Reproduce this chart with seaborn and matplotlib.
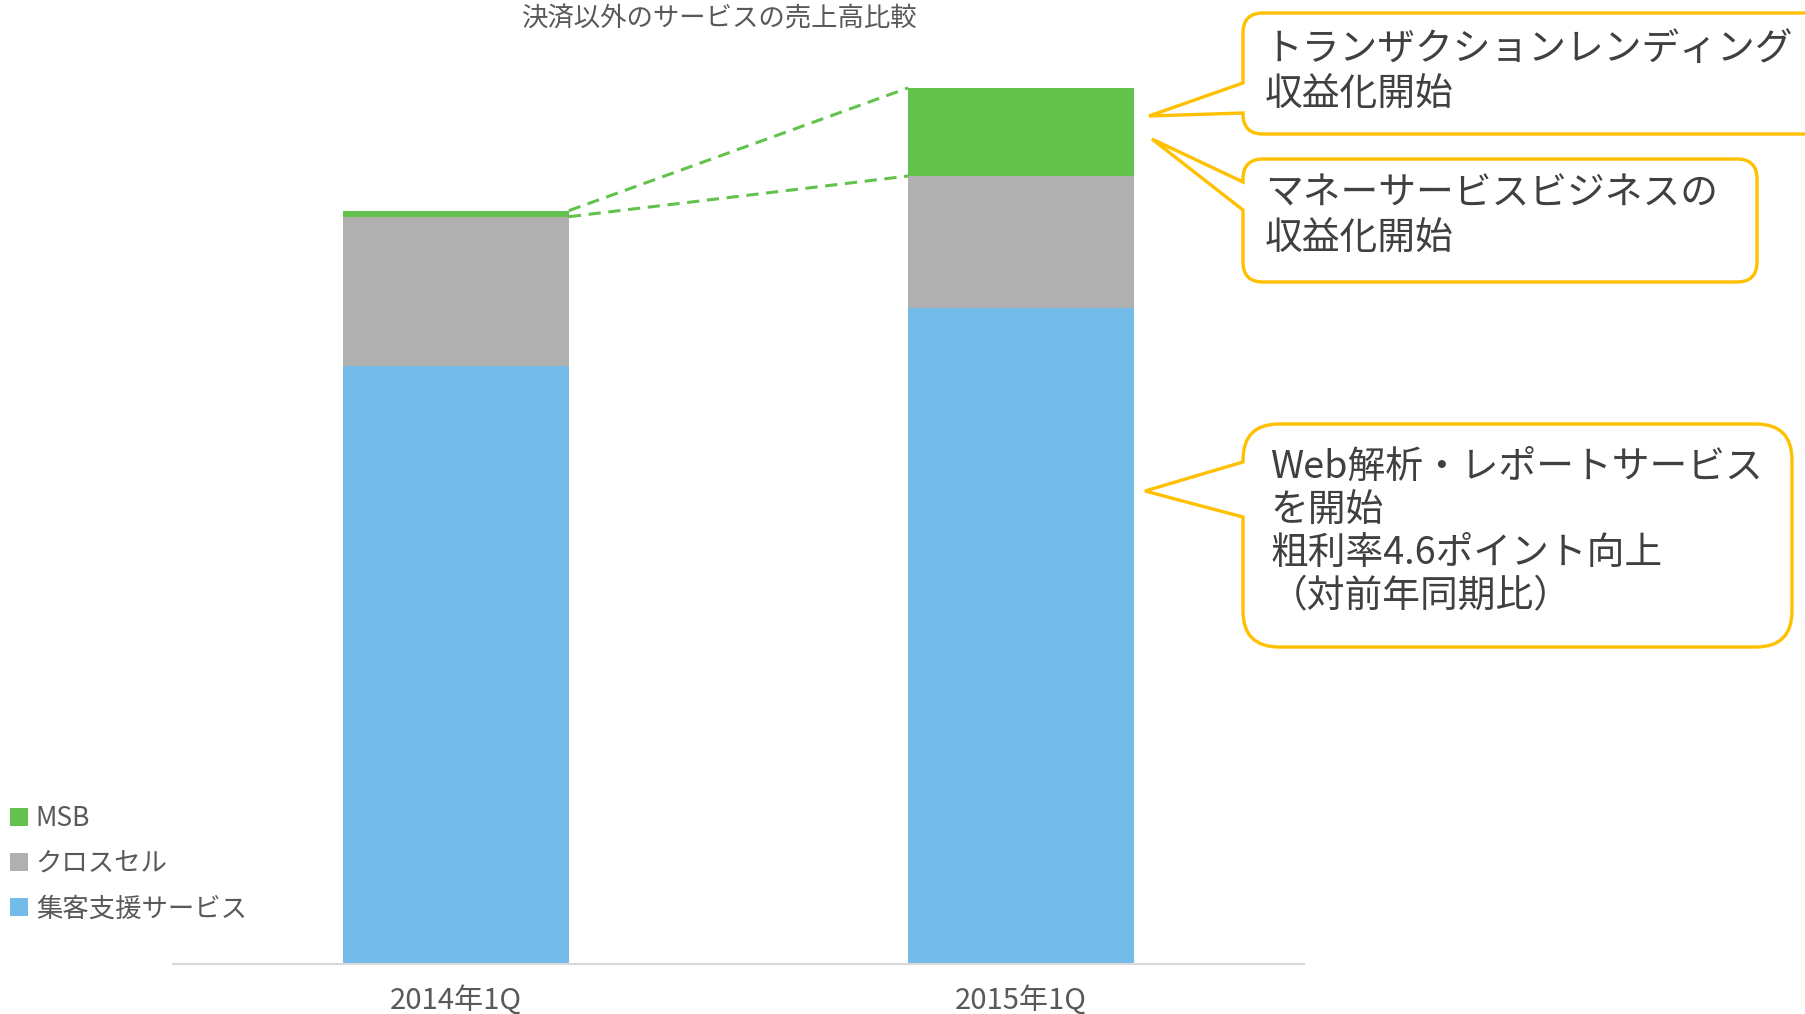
import matplotlib
matplotlib.use("Agg")
import matplotlib.pyplot as plt
from matplotlib.path import Path
from matplotlib.patches import PathPatch, Patch
import seaborn as sns
import pandas as pd
import numpy as np

# ---- data (index: 2014年1Q total = 100) ----
categories = ["2014年1Q", "2015年1Q"]
shukyaku = [79.4, 87.1]      # 集客支援サービス
crosssell = [19.8, 17.5]     # クロスセル
msb = [0.8, 11.7]            # MSB
series_names = ["集客支援サービス", "クロスセル", "MSB"]
title_text = "決済以外のサービスの売上高比較"
callout_texts = [
    "トランザクションレンディング\n収益化開始",
    "マネーサービスビジネスの\n収益化開始",
    "Web解析・レポートサービス\nを開始\n粗利率4.6ポイント向上\n（対前年同期比）",
]

C_BLUE = "#73BBE8"
C_GRAY = "#B0B0B0"
C_GREEN = "#63C24B"
C_GOLD = "#FFC000"
C_TEXT = "#595959"
C_DARK = "#404040"

sns.set_theme(style="white")
plt.rcParams["font.family"] = ["Noto Sans CJK JP", "DejaVu Sans"]

W, H = 1806, 1014
fig = plt.figure(figsize=(W / 100, H / 100), dpi=100)
ax = fig.add_axes([173 / W, 50 / H, 1131 / W, 904 / H])

df = pd.DataFrame({
    "cat": categories,
    "blue": shukyaku,
    "gray": np.array(shukyaku) + np.array(crosssell),
    "total": np.array(shukyaku) + np.array(crosssell) + np.array(msb),
})

sns.barplot(data=df, x="cat", y="total", color=C_GREEN, width=0.4, saturation=1,
            linewidth=0, ax=ax, label=series_names[2])
sns.barplot(data=df, x="cat", y="gray", color=C_GRAY, width=0.4, saturation=1,
            linewidth=0, ax=ax, label=series_names[1])
sns.barplot(data=df, x="cat", y="blue", color=C_BLUE, width=0.4, saturation=1,
            linewidth=0, ax=ax, label=series_names[0])

# dashed connector lines between the MSB segments
hw = 0.2
ax.plot([0 + hw, 1 - hw], [df["total"][0], df["total"][1]], ls=(0, (4, 2.5)),
        color=C_GREEN, lw=2.2, zorder=5)
ax.plot([0 + hw, 1 - hw], [df["gray"][0], df["gray"][1]], ls=(0, (4, 2.5)),
        color=C_GREEN, lw=2.2, zorder=5)

ax.set_xlim(-0.5, 1.5)
ax.set_ylim(0, 120)
ax.set_xlabel("")
ax.set_ylabel("")
ax.set_yticks([])
for s in ["top", "right", "left"]:
    ax.spines[s].set_visible(False)
ax.spines["bottom"].set_color("#D9D9D9")
ax.spines["bottom"].set_linewidth(1.5)
ax.tick_params(axis="x", length=0, pad=16, labelsize=21, labelcolor=C_TEXT)
if ax.get_legend() is not None:
    ax.get_legend().remove()

# legend (MSB, クロスセル, 集客支援サービス)
handles = [Patch(facecolor=c, edgecolor="none") for c in [C_GREEN, C_GRAY, C_BLUE]]
labels = [series_names[2], series_names[1], series_names[0]]
fig.legend(handles, labels, loc="upper left", bbox_to_anchor=(10 / W, 1 - 805 / H),
           frameon=False, fontsize=19, handlelength=0.68, handleheight=0.68,
           handletextpad=0.3, labelspacing=0.69, borderpad=0, borderaxespad=0,
           labelcolor=C_TEXT)

# title
fig.text(720 / W, 1 - 19 / H, title_text, ha="center", va="center",
         fontsize=19, color=C_TEXT)


def to_fig(x, y):
    return (x / W, 1 - y / H)


def callout(x0, y0, x1, y1, r, tip, b1, b2):
    pts = [
        (x0, b1), (x0, y0 + r), (x0, y0), (x0 + r, y0),
        (x1 - r, y0), (x1, y0), (x1, y0 + r),
        (x1, y1 - r), (x1, y1), (x1 - r, y1),
        (x0 + r, y1), (x0, y1), (x0, y1 - r),
        (x0, b2), tip, (x0, b1),
    ]
    codes = [Path.MOVETO, Path.LINETO, Path.CURVE3, Path.CURVE3,
             Path.LINETO, Path.CURVE3, Path.CURVE3,
             Path.LINETO, Path.CURVE3, Path.CURVE3,
             Path.LINETO, Path.CURVE3, Path.CURVE3,
             Path.LINETO, Path.LINETO, Path.CLOSEPOLY]
    verts = [to_fig(*p) for p in pts]
    patch = PathPatch(Path(verts, codes), facecolor="white", edgecolor=C_GOLD,
                      lw=2.4, transform=fig.transFigure, joinstyle="miter", zorder=10)
    fig.add_artist(patch)


callout(1243, 13, 1840, 134, 20, (1149, 116), 83, 113)
callout(1243, 159, 1757, 282, 20, (1152, 139), 182, 210)
callout(1243, 424, 1792, 647, 36, (1145, 491), 462, 517)

fig.text(*to_fig(1265, 72), callout_texts[0], ha="left", va="center",
         fontsize=27.2, color=C_DARK, linespacing=1.18, zorder=11)
fig.text(*to_fig(1265, 216), callout_texts[1], ha="left", va="center",
         fontsize=27.2, color=C_DARK, linespacing=1.18, zorder=11)
fig.text(*to_fig(1270, 532), callout_texts[2], ha="left", va="center",
         fontsize=27.2, color=C_DARK, linespacing=1.13, zorder=11)

fig.savefig("out.png", dpi=100, facecolor="white")
